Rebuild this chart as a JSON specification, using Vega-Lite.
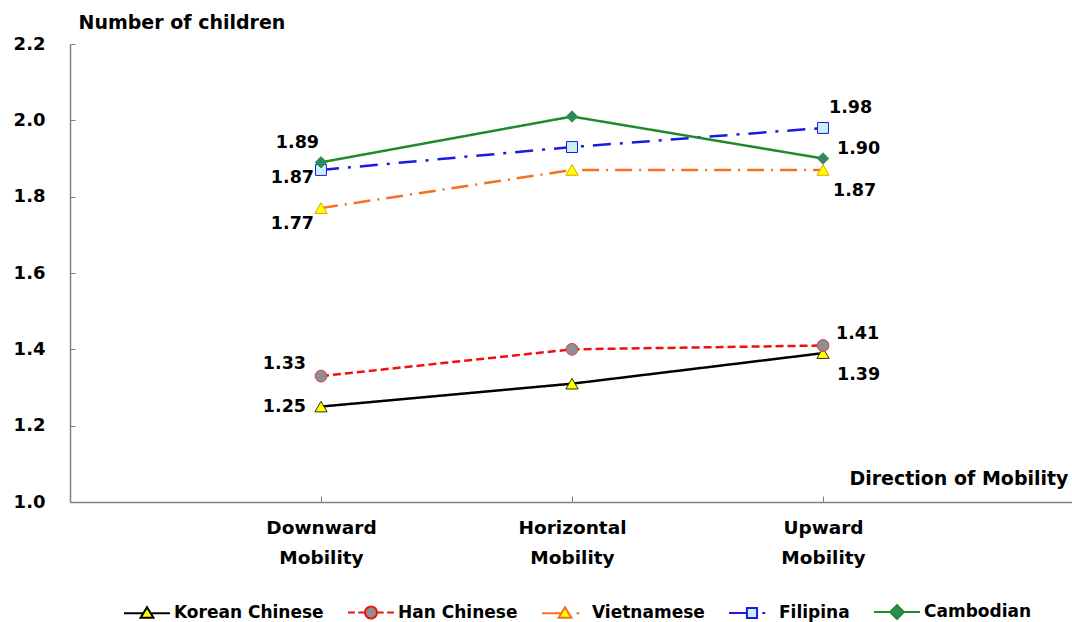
{
  "$schema": "https://vega.github.io/schema/vega-lite/v6.json",
  "width": 1004,
  "height": 458,
  "autosize": {"type": "none"},
  "padding": {"left": 70, "top": 44, "right": 0, "bottom": 120},
  "background": "white",
  "config": {"view": {"stroke": null}, "axis": {"grid": false}},
  "data": {
    "values": [
      {"series": "Korean Chinese", "mobility": "Downward Mobility", "value": 1.25},
      {"series": "Korean Chinese", "mobility": "Horizontal Mobility", "value": 1.31},
      {"series": "Korean Chinese", "mobility": "Upward Mobility", "value": 1.39},
      {"series": "Han Chinese", "mobility": "Downward Mobility", "value": 1.33},
      {"series": "Han Chinese", "mobility": "Horizontal Mobility", "value": 1.40},
      {"series": "Han Chinese", "mobility": "Upward Mobility", "value": 1.41},
      {"series": "Vietnamese", "mobility": "Downward Mobility", "value": 1.77},
      {"series": "Vietnamese", "mobility": "Horizontal Mobility", "value": 1.87},
      {"series": "Vietnamese", "mobility": "Upward Mobility", "value": 1.87},
      {"series": "Filipina", "mobility": "Downward Mobility", "value": 1.87},
      {"series": "Filipina", "mobility": "Horizontal Mobility", "value": 1.93},
      {"series": "Filipina", "mobility": "Upward Mobility", "value": 1.98},
      {"series": "Cambodian", "mobility": "Downward Mobility", "value": 1.89},
      {"series": "Cambodian", "mobility": "Horizontal Mobility", "value": 2.01},
      {"series": "Cambodian", "mobility": "Upward Mobility", "value": 1.90}
    ]
  },
  "encoding": {
    "x": {
      "field": "mobility", "type": "ordinal",
      "sort": ["Downward Mobility", "Horizontal Mobility", "Upward Mobility"],
      "scale": {"type": "point", "padding": 1},
      "axis": {
        "title": "Direction of Mobility",
        "titleFont": "DejaVu Sans", "titleFontSize": 19, "titleFontWeight": "bold", "titleColor": "#000",
        "titleAnchor": null, "titleAlign": "right", "titleBaseline": "middle", "titleX": 998, "titleY": -24,
        "labelExpr": "split(datum.label, ' ')",
        "labelAngle": 0, "labelFont": "DejaVu Sans", "labelFontSize": 18.5, "labelFontWeight": "bold", "labelColor": "#000",
        "labelLineHeight": 30, "labelPadding": 22, "labelBaseline": "top",
        "domainColor": "#808080", "domainWidth": 1.5, "tickColor": "#808080", "tickSize": -6, "tickWidth": 1
      }
    },
    "y": {
      "field": "value", "type": "quantitative",
      "scale": {"domain": [1.0, 2.2], "zero": false, "nice": false},
      "axis": {
        "values": [1.0, 1.2, 1.4, 1.6, 1.8, 2.0, 2.2], "format": ".1f", "labelOverlap": false,
        "title": "Number of children",
        "titleFont": "DejaVu Sans", "titleFontSize": 19, "titleFontWeight": "bold", "titleColor": "#000",
        "titleAngle": 0, "titleAnchor": null, "titleAlign": "left", "titleBaseline": "middle", "titleX": 8, "titleY": -22,
        "labelFont": "DejaVu Sans", "labelFontSize": 18, "labelFontWeight": "bold", "labelColor": "#000", "labelPadding": 30,
        "domainColor": "#808080", "domainWidth": 1.5, "tickColor": "#808080", "tickSize": -5, "tickWidth": 1
      }
    }
  },
  "layer": [
    {
      "mark": {"type": "line", "strokeWidth": 2.5, "strokeDash": {"expr": "datum.series === 'Han Chinese' ? [8,4] : datum.series === 'Vietnamese' ? [17,7,2,7] : datum.series === 'Filipina' ? [18,9,3,9] : [1,0]"}},
      "encoding": {
        "color": {
          "field": "series", "type": "nominal",
          "scale": {"domain": ["Korean Chinese", "Han Chinese", "Vietnamese", "Filipina", "Cambodian"], "range": ["#000000", "#ee1111", "#f5711f", "#1a1ae0", "#1f8a2a"]},
          "legend": {
            "orient": "none", "legendX": 53, "legendY": 544, "direction": "horizontal", "columns": 5, "title": null,
            "symbolSize": 2116, "symbolStrokeWidth": 2, "columnPadding": 20, "labelOffset": 3,
            "labelFont": "DejaVu Sans", "labelFontSize": 17, "labelFontWeight": "bold", "labelColor": "#000", "labelLimit": 300,
            "encode": {
              "symbols": {
                "update": {
                  "shape": {"signal": "datum.value === 'Korean Chinese' ? 'M-1,0H-0.15M0.15,0H1M-0.28,0.2L0,-0.26L0.28,0.2Z' : datum.value === 'Han Chinese' ? 'M-1,0H-0.7M-0.55,0H-0.28M0.28,0H0.55M0.7,0H1M-0.26,0A0.26,0.26,0,1,0,0.26,0A0.26,0.26,0,1,0,-0.26,0Z' : datum.value === 'Vietnamese' ? 'M-1,0H-0.15M-0.28,0.2L0,-0.26L0.28,0.2ZM0.5,0H0.62' : datum.value === 'Filipina' ? 'M-1,0H-0.22M-0.22,-0.22H0.22V0.22H-0.22ZM0.45,0H0.57' : 'M-1,0H-0.28M0.28,0H1M-0.3,0L0,-0.3L0.3,0L0,0.3Z'"},
                  "fill": {"signal": "datum.value === 'Korean Chinese' ? '#ffff00' : datum.value === 'Han Chinese' ? '#8f8f8f' : datum.value === 'Vietnamese' ? '#ffff00' : datum.value === 'Filipina' ? '#ccf0f8' : '#2e8b57'"},
                  "strokeDash": {"value": [1, 0]},
                  "strokeWidth": {"value": 2},
                  "opacity": {"value": 1}
                }
              }
            }
          }
        }
      }
    },
    {"transform": [{"filter": "datum.series === 'Korean Chinese'"}], "mark": {"type": "point", "shape": "triangle-up", "filled": true, "size": 150, "fill": "#ffff00", "stroke": "#333300", "strokeWidth": 1, "opacity": 1}},
    {"transform": [{"filter": "datum.series === 'Han Chinese'"}], "mark": {"type": "point", "shape": "circle", "filled": true, "size": 140, "fill": "#8f8f8f", "stroke": "#d04050", "strokeWidth": 1, "opacity": 1}},
    {"transform": [{"filter": "datum.series === 'Vietnamese'"}], "mark": {"type": "point", "shape": "triangle-up", "filled": true, "size": 150, "fill": "#ffff00", "stroke": "#e8a000", "strokeWidth": 1, "opacity": 1}},
    {"transform": [{"filter": "datum.series === 'Filipina'"}], "mark": {"type": "point", "shape": "square", "filled": true, "size": 120, "fill": "#ccf0f8", "stroke": "#1a1ae0", "strokeWidth": 1, "opacity": 1}},
    {"transform": [{"filter": "datum.series === 'Cambodian'"}], "mark": {"type": "point", "shape": "diamond", "filled": true, "size": 130, "fill": "#2e8b57", "stroke": "#2e8b57", "strokeWidth": 1, "opacity": 1}},
    {"transform": [{"filter": "datum.series === 'Cambodian' && datum.mobility === 'Downward Mobility'"}], "mark": {"type": "text", "align": "right", "baseline": "middle", "dx": -2, "dy": -19, "font": "DejaVu Sans", "fontSize": 17.5, "fontWeight": "bold", "color": "#000"}, "encoding": {"text": {"field": "value", "type": "quantitative", "format": ".2f"}}},
    {"transform": [{"filter": "datum.series === 'Filipina' && datum.mobility === 'Downward Mobility'"}], "mark": {"type": "text", "align": "right", "baseline": "middle", "dx": -7, "dy": 8, "font": "DejaVu Sans", "fontSize": 17.5, "fontWeight": "bold", "color": "#000"}, "encoding": {"text": {"field": "value", "type": "quantitative", "format": ".2f"}}},
    {"transform": [{"filter": "datum.series === 'Vietnamese' && datum.mobility === 'Downward Mobility'"}], "mark": {"type": "text", "align": "right", "baseline": "middle", "dx": -7, "dy": 16, "font": "DejaVu Sans", "fontSize": 17.5, "fontWeight": "bold", "color": "#000"}, "encoding": {"text": {"field": "value", "type": "quantitative", "format": ".2f"}}},
    {"transform": [{"filter": "datum.series === 'Han Chinese' && datum.mobility === 'Downward Mobility'"}], "mark": {"type": "text", "align": "right", "baseline": "middle", "dx": -15, "dy": -12, "font": "DejaVu Sans", "fontSize": 17.5, "fontWeight": "bold", "color": "#000"}, "encoding": {"text": {"field": "value", "type": "quantitative", "format": ".2f"}}},
    {"transform": [{"filter": "datum.series === 'Korean Chinese' && datum.mobility === 'Downward Mobility'"}], "mark": {"type": "text", "align": "right", "baseline": "middle", "dx": -15, "dy": 0, "font": "DejaVu Sans", "fontSize": 17.5, "fontWeight": "bold", "color": "#000"}, "encoding": {"text": {"field": "value", "type": "quantitative", "format": ".2f"}}},
    {"transform": [{"filter": "datum.series === 'Filipina' && datum.mobility === 'Upward Mobility'"}], "mark": {"type": "text", "align": "left", "baseline": "middle", "dx": 6, "dy": -20, "font": "DejaVu Sans", "fontSize": 17.5, "fontWeight": "bold", "color": "#000"}, "encoding": {"text": {"field": "value", "type": "quantitative", "format": ".2f"}}},
    {"transform": [{"filter": "datum.series === 'Cambodian' && datum.mobility === 'Upward Mobility'"}], "mark": {"type": "text", "align": "left", "baseline": "middle", "dx": 14, "dy": -10, "font": "DejaVu Sans", "fontSize": 17.5, "fontWeight": "bold", "color": "#000"}, "encoding": {"text": {"field": "value", "type": "quantitative", "format": ".2f"}}},
    {"transform": [{"filter": "datum.series === 'Vietnamese' && datum.mobility === 'Upward Mobility'"}], "mark": {"type": "text", "align": "left", "baseline": "middle", "dx": 10, "dy": 21, "font": "DejaVu Sans", "fontSize": 17.5, "fontWeight": "bold", "color": "#000"}, "encoding": {"text": {"field": "value", "type": "quantitative", "format": ".2f"}}},
    {"transform": [{"filter": "datum.series === 'Han Chinese' && datum.mobility === 'Upward Mobility'"}], "mark": {"type": "text", "align": "left", "baseline": "middle", "dx": 13, "dy": -12, "font": "DejaVu Sans", "fontSize": 17.5, "fontWeight": "bold", "color": "#000"}, "encoding": {"text": {"field": "value", "type": "quantitative", "format": ".2f"}}},
    {"transform": [{"filter": "datum.series === 'Korean Chinese' && datum.mobility === 'Upward Mobility'"}], "mark": {"type": "text", "align": "left", "baseline": "middle", "dx": 14, "dy": 22, "font": "DejaVu Sans", "fontSize": 17.5, "fontWeight": "bold", "color": "#000"}, "encoding": {"text": {"field": "value", "type": "quantitative", "format": ".2f"}}}
  ]
}
